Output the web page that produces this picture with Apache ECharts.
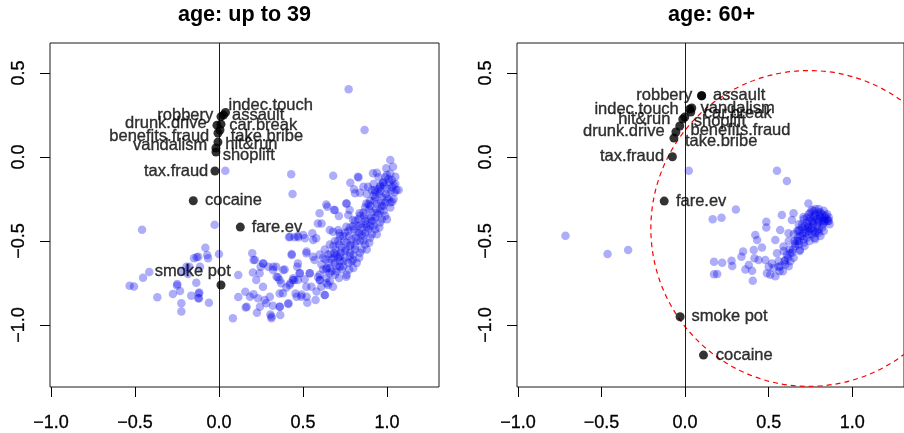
<!DOCTYPE html>
<html><head><meta charset="utf-8">
<script src="https://cdn.jsdelivr.net/npm/echarts@6/dist/echarts.min.js"></script>
<style>html,body{margin:0;padding:0;background:#fff}#c{width:904px;height:433px}</style>
</head><body><div id="c"></div>
<script>
const titles = ['age: up to 39', 'age: 60+'];
const xTicks = [-1, -0.5, 0, 0.5, 1];
const yTicks = [-1, -0.5, 0, 0.5];
const refLineX = 0;

// black labelled points, panel "up to 39"
const leftNames = ['indec.touch','assault','robbery','drunk.drive','car.break','benefits.fraud','take.bribe','vandalism','hit&run','shoplift','tax.fraud','cocaine','fare.ev','smoke pot'];
const leftX = [0.039, 0.027, 0.012, -0.012, 0.012, -0.006, 0.006, -0.018, -0.006, -0.018, -0.024, -0.153, 0.127, 0.012];
const leftY = [0.265, 0.25, 0.241, 0.19, 0.196, 0.143, 0.161, 0.054, 0.089, 0.03, -0.083, -0.26, -0.417, -0.762];

// black labelled points, panel "60+"
const rightNames = ['robbery','assault','indec.touch','vandalism','car.break','hit&run','shoplift','benefits.fraud','drunk.drive','take.bribe','tax.fraud','fare.ev','smoke pot','cocaine'];
const rightX = [0.099, 0.099, 0.028, 0.040, 0.034, -0.014, -0.002, -0.032, -0.055, -0.067, -0.076, -0.125, -0.030, 0.110];
const rightY = [0.365, 0.365, 0.286, 0.292, 0.268, 0.226, 0.238, 0.185, 0.149, 0.113, 0.002, -0.262, -0.951, -1.179];

// red dashed circle (panel 60+): centre x, centre y, radius
const circle = [0.74, -0.425, 0.945];

// blue cloud, panel "up to 39"
const leftCloud = [
[0.772,0.403],[0.867,0.161],[1.02,-0.018],[0.038,-0.081],[0.43,-0.103],[0.68,-0.111],[0.782,-0.153],[0.831,-0.121],[0.438,-0.22],[-0.458,-0.433],[-0.026,-0.403],[0,-0.577],[-0.081,-0.54],[-0.149,-0.603],[-0.123,-0.593],[-0.065,-0.603],[-0.532,-0.766],[-0.506,-0.77],[-0.452,-0.718],[-0.415,-0.685],[-0.367,-0.835],[-0.274,-0.815],[-0.25,-0.764],[-0.232,-0.798],[-0.224,-0.871],[-0.224,-0.919],[-0.194,-0.653],[-0.165,-0.825],[-0.135,-0.748],[-0.121,-0.812],[-0.119,-0.841],[-0.06,-0.867],[-0.113,-0.653],[-0.185,-0.696],[0.083,-0.96],[0.115,-0.702],[0.115,-0.833],[0.159,-0.895],[0.157,-0.802],[0.198,-0.573],[0.206,-0.613],[0.202,-0.688],[0.206,-0.817],[0.232,-0.841],[0.248,-0.653],[0.226,-0.927],[0.262,-0.772],[0.282,-0.871],[0.294,-0.653],[0.306,-0.937],[0.312,-0.96],[0.321,-0.885],[0.341,-0.653],[0.351,-0.716],[0.361,-0.812],[0.365,-0.94],[0.371,-0.752],[0.391,-0.669],[0.401,-0.776],[0.413,-0.875],[0.425,-0.752],[0.433,-0.577],[0.44,-0.732],[0.45,-0.478],[0.456,-0.812],[0.466,-0.653],[0.47,-0.732],[0.492,-0.819],[0.51,-0.728],[0.52,-0.573],[0.526,-0.867],[0.55,-0.772],[0.569,-0.613],[0.575,-0.851],[0.589,-0.714],[0.609,-0.772],[0.629,-0.821],[0.639,-0.669],[0.649,-0.762],[0.599,-0.335],[0.639,-0.282],[0.685,-0.315],[0.714,-0.351],[0.589,-0.395],[0.556,-0.454],[0.47,-0.47],[0.417,-0.478],[0.512,-0.484],[0.679,-0.444],[0.758,-0.276],[0.778,-0.315],[0.827,-0.117],[0.804,-0.192],[0.839,-0.212],[0.917,-0.097],[0.94,-0.093],[0.996,-0.067],[0.976,-0.153],[1.036,-0.058],[1.05,-0.117],[1.056,-0.196],[1.032,-0.266],[0.887,-0.177],[0.927,-0.196],[0.877,-0.276],[0.837,-0.335],[0.798,-0.375],[0.758,-0.415],[0.718,-0.454],
[-0.133,-0.597],[-0.07,-0.583],[-0.177,-0.653],[-0.216,-0.682],[-0.248,-0.756],[-0.123,-0.841],[-0.117,-0.807],[0.222,-0.732],[0.242,-0.692],[0.262,-0.633],[0.272,-0.851],[0.321,-0.673],[0.361,-0.732],[0.381,-0.811],[0.361,-0.891],[0.42,-0.762],[0.45,-0.732],[0.47,-0.633],[0.48,-0.692],[0.49,-0.831],[0.52,-0.772],[0.54,-0.692],[0.599,-0.732],[0.56,-0.593],[0.659,-0.692],[0.679,-0.772],[0.688,-0.573],[0.718,-0.653],[0.758,-0.712],[0.798,-0.613],[0.579,-0.484],
[0.645,-0.296],[0.611,-0.395],[0.69,-0.315],[0.76,-0.276],[0.77,-0.345],[0.71,-0.435],[0.66,-0.435],[0.422,-0.474],[0.472,-0.478],[0.502,-0.464],[0.561,-0.494],[0.522,-0.563],[0.433,-0.583],[0.214,-0.613],[0.264,-0.633],[0.323,-0.653],[0.383,-0.673],[0.343,-0.712],[0.442,-0.722],[0.482,-0.692],[0.541,-0.692],[0.601,-0.732],[0.641,-0.752],[0.581,-0.801],[0.631,-0.821],[0.522,-0.831],[0.462,-0.831],[0.413,-0.871],[0.363,-0.891],[0.313,-0.95],[0.244,-0.891],[0.185,-0.831],[0.165,-0.891],[0.303,-0.831],
[0.999,-0.107],[1.03,-0.137],[1.04,-0.167],[1.07,-0.196],[0.96,-0.177],[0.91,-0.196],[0.86,-0.177],[0.81,-0.216],
[0.60,-0.58],[0.61,-0.64],[0.60,-0.70],[0.63,-0.55],[0.635,-0.61],[0.62,-0.67],[0.64,-0.72],[0.66,-0.52],[0.665,-0.575],[0.655,-0.63],[0.67,-0.68],[0.66,-0.74],[0.69,-0.50],[0.695,-0.55],[0.685,-0.60],[0.70,-0.65],[0.69,-0.70],[0.72,-0.47],[0.715,-0.52],[0.725,-0.57],[0.72,-0.62],[0.73,-0.67],[0.715,-0.72],[0.75,-0.45],[0.745,-0.50],[0.755,-0.55],[0.75,-0.60],[0.74,-0.65],[0.76,-0.70],[0.78,-0.42],[0.775,-0.47],[0.785,-0.52],[0.78,-0.57],[0.79,-0.62],[0.775,-0.67],[0.81,-0.38],[0.805,-0.43],[0.815,-0.48],[0.81,-0.53],[0.80,-0.58],[0.82,-0.63],[0.84,-0.35],[0.845,-0.40],[0.835,-0.45],[0.84,-0.50],[0.85,-0.55],[0.835,-0.60],[0.87,-0.30],[0.865,-0.35],[0.875,-0.40],[0.87,-0.45],[0.86,-0.50],[0.88,-0.55],[0.90,-0.26],[0.895,-0.31],[0.905,-0.36],[0.90,-0.41],[0.91,-0.46],[0.895,-0.51],[0.93,-0.21],[0.925,-0.26],[0.935,-0.31],[0.93,-0.36],[0.92,-0.41],[0.94,-0.46],[0.96,-0.17],[0.955,-0.22],[0.965,-0.27],[0.96,-0.32],[0.97,-0.37],[0.955,-0.42],[0.99,-0.12],[0.985,-0.17],[0.995,-0.22],[0.99,-0.27],[0.98,-0.32],[1.0,-0.37],[1.02,-0.10],[1.015,-0.15],[1.025,-0.20],[1.01,-0.25],[1.02,-0.30],[1.05,-0.16],[1.045,-0.21],[1.04,-0.25],
[0.70,-0.58],[0.73,-0.54],[0.76,-0.51],[0.79,-0.49],[0.82,-0.45],[0.85,-0.42],[0.88,-0.37],[0.91,-0.33],[0.94,-0.28],[0.97,-0.24],[1.0,-0.19],[0.74,-0.62],[0.78,-0.59],[0.81,-0.55],[0.86,-0.47],[0.89,-0.43],[0.92,-0.38],[0.95,-0.34],[0.98,-0.29],[0.83,-0.41],[0.87,-0.38],[0.9,-0.29],[0.93,-0.24],[0.96,-0.2],[0.71,-0.6],[0.67,-0.61],[0.64,-0.66],
[0.62,-0.6],[0.65,-0.58],[0.68,-0.53],[0.71,-0.5],[0.74,-0.47],[0.77,-0.44],[0.8,-0.41],[0.83,-0.37],[0.86,-0.33],[0.89,-0.28],[0.92,-0.23],[0.95,-0.19],[0.98,-0.15],[1.01,-0.13],[0.69,-0.63],[0.72,-0.59],[0.75,-0.56],[0.78,-0.53],[0.82,-0.5],[0.85,-0.46],[0.88,-0.42],[0.91,-0.38],[0.94,-0.33],[0.97,-0.29],[1.0,-0.24],[1.03,-0.18],[0.66,-0.66],[0.7,-0.68],[0.77,-0.63],[0.8,-0.66],[0.84,-0.57],[0.87,-0.52],[0.9,-0.48],[0.93,-0.43],[0.96,-0.39],[0.99,-0.35],[1.02,-0.27],[0.92,-0.16],[0.95,-0.12],[0.88,-0.22]
];

// blue cloud, panel "60+"
const rightCloud = [
[-0.716,-0.468],[-0.464,-0.577],[-0.341,-0.554],[0.022,-0.081],[0.55,-0.081],[0.609,-0.143],[0.304,-0.312],[0.165,-0.371],[0.218,-0.361],[0.173,-0.623],[0.222,-0.629],[0.173,-0.698],[0.192,-0.696],[0.278,-0.617],[0.282,-0.649],[0.347,-0.563],[0.337,-0.593],[0.361,-0.669],[0.381,-0.643],[0.401,-0.677],[0.405,-0.736],[0.411,-0.554],[0.415,-0.603],[0.42,-0.464],[0.431,-0.494],[0.44,-0.613],[0.46,-0.538],[0.48,-0.613],[0.486,-0.385],[0.486,-0.419],[0.49,-0.692],[0.5,-0.653],[0.51,-0.7],[0.52,-0.633],[0.54,-0.494],[0.55,-0.573],[0.56,-0.653],[0.569,-0.435],[0.579,-0.345],[0.589,-0.532],[0.599,-0.613],[0.619,-0.454],[0.629,-0.573],[0.639,-0.375],[0.649,-0.335],[0.659,-0.516],[0.679,-0.435],[0.688,-0.554],[0.708,-0.357],[0.738,-0.276],[0.758,-0.315],[0.778,-0.49],
[0.86,-0.36],[0.865,-0.40],[0.855,-0.38],[0.83,-0.32],[0.835,-0.36],[0.825,-0.40],[0.83,-0.44],[0.80,-0.31],[0.805,-0.35],[0.795,-0.39],[0.80,-0.43],[0.81,-0.47],[0.77,-0.32],[0.775,-0.36],[0.765,-0.40],[0.77,-0.44],[0.775,-0.48],[0.74,-0.34],[0.745,-0.38],[0.735,-0.42],[0.74,-0.46],[0.745,-0.50],[0.71,-0.37],[0.715,-0.41],[0.705,-0.45],[0.71,-0.49],[0.715,-0.53],[0.68,-0.40],[0.685,-0.44],[0.675,-0.48],[0.68,-0.52],[0.685,-0.56],[0.65,-0.46],[0.655,-0.50],[0.645,-0.55],[0.65,-0.60],[0.62,-0.50],[0.625,-0.55],[0.615,-0.60],[0.62,-0.65],[0.59,-0.56],[0.595,-0.62],[0.585,-0.68],[0.56,-0.62],[0.565,-0.68],[0.53,-0.66],[0.54,-0.71],
[0.82,-0.34],[0.79,-0.37],[0.76,-0.38],[0.79,-0.41],[0.82,-0.38],[0.75,-0.43],[0.78,-0.45],[0.72,-0.43],[0.84,-0.38],[0.81,-0.33],[0.78,-0.34],[0.75,-0.36],[0.73,-0.39],[0.70,-0.47],[0.67,-0.5],[0.76,-0.46],[0.8,-0.45],[0.85,-0.34],[0.73,-0.48],[0.7,-0.42],
[0.84,-0.35],[0.81,-0.36],[0.83,-0.39],[0.8,-0.38],[0.77,-0.39],[0.74,-0.41],[0.76,-0.42],[0.79,-0.44],[0.82,-0.42],[0.85,-0.37],[0.72,-0.45],[0.69,-0.47],[0.71,-0.51],[0.74,-0.44],[0.77,-0.35],[0.8,-0.33],[0.83,-0.37],[0.86,-0.38],[0.68,-0.5],[0.66,-0.53],[0.64,-0.57],[0.61,-0.58],[0.63,-0.62],[0.6,-0.64],[0.57,-0.65],[0.75,-0.33],[0.78,-0.31],[0.73,-0.36],[0.7,-0.4],[0.67,-0.44]
];

// label placement (style): [align, dx px, dy px] relative to the point centre
const leftLabelPlace = {
  'indec.touch':['left',3,-7],'assault':['left',8.5,0.7],'robbery':['right',-7.7,-0.8],
  'drunk.drive':['right',-10.3,-1.7],'car.break':['left',8.3,1.7],'benefits.fraud':['right',-8.7,3],
  'take.bribe':['left',10.7,6.7],'vandalism':['right',-8.7,-2.7],'hit&run':['left',7.3,2],
  'shoplift':['left',6.7,3.3],'tax.fraud':['right',-6.7,0],'cocaine':['left',11.7,0],
  'fare.ev':['left',11.4,0],'smoke pot':['center',-28.3,-13.3]
};
const rightLabelPlace = {
  'robbery':['right',-9.4,-0.7],'assault':['left',11.3,-0.7],'indec.touch':['right',-11,0],
  'vandalism':['left',8.7,0.3],'car.break':['left',13,1.3],'hit&run':['right',-12.3,0.3],
  'shoplift':['left',9,4.7],'benefits.fraud':['left',10.7,4],'drunk.drive':['right',-11.3,-0.3],
  'take.bribe':['left',11,3],'tax.fraud':['right',-8.3,-0.7],'fare.ev':['left',11.7,0],
  'smoke pot':['left',11.4,0],'cocaine':['left',12.3,0]
};

const FONT = "'Liberation Sans', Arial, Helvetica, sans-serif";
const fmt = v => (v < 0 ? '\u2212' : '') + Math.abs(v).toFixed(1);
const BLACK_SIZE = 9;

function blackData(names, xs, ys, place) {
  return names.map((n, i) => {
    const p = place[n];
    return {
      name: n, value: [xs[i], ys[i]],
      label: { show: true, formatter: n, position: [BLACK_SIZE / 2 + p[1], BLACK_SIZE / 2 + p[2]],
        align: p[0], verticalAlign: 'middle', color: '#000', fontSize: 16.5, fontFamily: FONT,
        textBorderColor: '#000', textBorderWidth: 0.35 }
    };
  });
}

const grids = [
  { left: 50, top: 43, width: 389, height: 344 },
  { left: 517, top: 43, width: 389, height: 344 }
];

function xAxis(i) {
  return { type: 'value', gridIndex: i, min: -1.006, max: 1.31, position: 'bottom',
    splitLine: { show: false }, axisLine: { show: false, onZero: false },
    axisTick: { show: true, inside: false, length: 10, customValues: xTicks, lineStyle: { color: '#000', width: 1 } },
    axisLabel: { customValues: xTicks, formatter: fmt, fontSize: 18, color: '#000', fontFamily: FONT, margin: 27,
      textBorderColor: '#000', textBorderWidth: 0.3 } };
}
function yAxis(i) {
  return { type: 'value', gridIndex: i, min: -1.369, max: 0.679, position: 'left',
    splitLine: { show: false }, axisLine: { show: false, onZero: false },
    axisTick: { show: true, inside: false, length: 10, customValues: yTicks, lineStyle: { color: '#000', width: 1 } },
    axisLabel: { customValues: yTicks, formatter: fmt, fontSize: 18, color: '#000', fontFamily: FONT, margin: 22, rotate: 90,
      textBorderColor: '#000', textBorderWidth: 0.3 } };
}

const blueStyle = { color: 'rgba(0,0,235,0.4)' };

function vlineSeries(i) {
  return { type: 'custom', xAxisIndex: i, yAxisIndex: i, data: [[refLineX]], z: 4, silent: true, clip: true,
    encode: { x: 0 },
    renderItem: (params, api) => {
      const cs = params.coordSys;
      const x = Math.round(api.coord([api.value(0), 0])[0]) + 0.5;
      return { type: 'line', shape: { x1: x, y1: cs.y, x2: x, y2: cs.y + cs.height },
        style: { stroke: '#0000ff', lineWidth: 1 } };
    } };
}

const chart = echarts.init(document.getElementById('c'), null, { renderer: 'canvas' });
chart.setOption({
  animation: false,
  backgroundColor: '#fff',
  grid: grids.map(g => Object.assign({ show: true, borderColor: '#1a1a1a', borderWidth: 1, backgroundColor: 'transparent' }, g)),
  xAxis: [xAxis(0), xAxis(1)],
  yAxis: [yAxis(0), yAxis(1)],
  graphic: titles.map((t, i) => ({
    type: 'text', x: grids[i].left + grids[i].width / 2, y: 15,
    style: { text: t, align: 'center', verticalAlign: 'middle', fontSize: 21.6, fontWeight: 'bold', fontFamily: FONT, fill: '#000' }
  })),
  series: [
    { type: 'scatter', xAxisIndex: 0, yAxisIndex: 0, data: leftCloud, symbolSize: 8.5, itemStyle: blueStyle, z: 2, silent: true },
    { type: 'scatter', xAxisIndex: 1, yAxisIndex: 1, data: rightCloud, symbolSize: 8.5, itemStyle: blueStyle, z: 2, silent: true },
    vlineSeries(0), vlineSeries(1),
    { type: 'custom', xAxisIndex: 1, yAxisIndex: 1, data: [circle], clip: true, z: 3, silent: true,
      renderItem: (params, api) => {
        const c = api.coord([api.value(0), api.value(1)]);
        const r = api.size([api.value(2), 0])[0];
        return { type: 'circle', shape: { cx: c[0], cy: c[1], r: r },
          style: { fill: 'none', stroke: '#ff0000', lineWidth: 1.2, lineDash: [5, 4] } };
      } },
    { type: 'scatter', xAxisIndex: 0, yAxisIndex: 0, data: blackData(leftNames, leftX, leftY, leftLabelPlace), symbolSize: BLACK_SIZE, itemStyle: { color: '#000' }, z: 6, silent: true, labelLayout: { hideOverlap: false } },
    { type: 'scatter', xAxisIndex: 1, yAxisIndex: 1, data: blackData(rightNames, rightX, rightY, rightLabelPlace), symbolSize: BLACK_SIZE, itemStyle: { color: '#000' }, z: 6, silent: true, labelLayout: { hideOverlap: false } }
  ]
});
</script>
</body></html>
